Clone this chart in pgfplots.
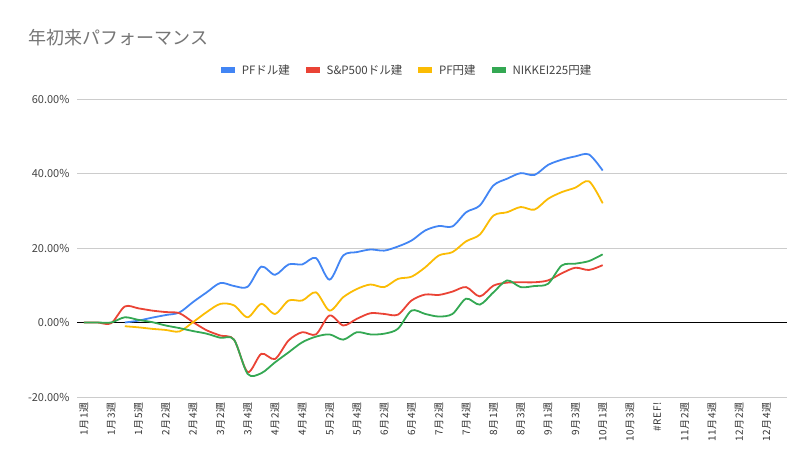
\documentclass[border=0pt]{standalone}
\usepackage{pgfplots}
\pgfplotsset{compat=1.18}
\usepackage{pgfplotstable}
\usepackage{fontspec}
\setmainfont{Noto Sans CJK JP}
\definecolor{cblue}{HTML}{4285F4}
\definecolor{cred}{HTML}{EA4335}
\definecolor{cyellow}{HTML}{FBBC04}
\definecolor{cgreen}{HTML}{34A853}
\definecolor{gridgray}{HTML}{CCCCCC}
\definecolor{titlegray}{HTML}{757575}
\definecolor{textgray}{HTML}{444444}
\pgfplotstableread{
x y
3 0.0
4 0.5
5 1.3
6 2.0
7 2.7
8 5.5
9 8.1
10 10.6
11 9.8
12 9.6
13 15.0
14 12.8
15 15.6
16 15.6
17 17.3
18 11.5
19 18.0
20 18.9
21 19.6
22 19.3
23 20.4
24 22.0
25 24.7
26 25.9
27 25.8
28 29.6
29 31.4
30 36.8
31 38.6
32 40.1
33 39.6
34 42.3
35 43.7
36 44.6
37 45.1
38 40.8
}\pfusd
\pgfplotstableread{
x y
0 0
1 0
2 -0.2
3 4.3
4 3.8
5 3.2
6 2.8
7 2.5
8 0.1
9 -2.1
10 -3.5
11 -4.6
12 -13.3
13 -8.4
14 -9.8
15 -4.8
16 -2.6
17 -3.2
18 1.9
19 -0.8
20 1.0
21 2.5
22 2.3
23 2.1
24 5.9
25 7.5
26 7.4
27 8.3
28 9.5
29 7.0
30 9.9
31 10.7
32 10.8
33 10.8
34 11.3
35 13.2
36 14.7
37 14.1
38 15.4
}\spusd
\pgfplotstableread{
x y
3 -1.0
4 -1.3
5 -1.7
6 -2.0
7 -2.4
8 0.1
9 2.8
10 5.0
11 4.6
12 1.4
13 5.0
14 2.3
15 5.9
16 5.9
17 8.1
18 3.2
19 6.8
20 9.0
21 10.2
22 9.5
23 11.7
24 12.3
25 14.8
26 18.0
27 18.9
28 21.8
29 23.6
30 28.7
31 29.6
32 31.0
33 30.3
34 33.2
35 35.0
36 36.2
37 37.9
38 32.0
}\pfjpy
\pgfplotstableread{
x y
0 0
1 0
2 0
3 1.4
4 0.7
5 0.1
6 -0.8
7 -1.5
8 -2.3
9 -3.0
10 -4.1
11 -4.6
12 -13.8
13 -13.6
14 -10.7
15 -8.0
16 -5.3
17 -3.8
18 -3.2
19 -4.6
20 -2.6
21 -3.2
22 -3.0
23 -1.7
24 3.2
25 2.3
26 1.6
27 2.3
28 6.4
29 4.8
30 8.1
31 11.3
32 9.5
33 9.8
34 10.4
35 15.3
36 15.8
37 16.5
38 18.3
}\nikkei
\begin{document}
\begin{tikzpicture}[x=1pt,y=1pt]
\path[use as bounding box] (-77,-75) rectangle (733,397);
\begin{axis}[
  at={(0,0)}, anchor=south west,
  scale only axis, width=710pt, height=298pt,
  xmin=-0.5, xmax=51.5, ymin=-20, ymax=60,
  axis line style={draw=none},
  major tick length=0pt,
  ytick={-20,0,20,40,60},
  yticklabels={-20.00\%,0.00\%,20.00\%,40.00\%,60.00\%},
  ymajorgrids,
  grid style={color=gridgray, line width=0.8pt},
  extra y ticks={0},
  extra y tick labels={},
  extra y tick style={ymajorgrids=true, grid style={black, line width=0.9pt}},
  xtick={0,2,...,50},
  xticklabels={1月1週,1月3週,1月5週,2月2週,2月4週,3月2週,3月4週,4月2週,4月4週,5月2週,5月4週,6月2週,6月4週,7月2週,7月4週,8月1週,8月3週,9月1週,9月3週,10月1週,10月3週,\#REF!,11月2週,11月4週,12月2週,12月4週},
  xticklabel style={rotate=90, anchor=east, font=\fontsize{10}{11}\selectfont\addfontfeatures{LetterSpace=7}, color=black!80, xshift=-2pt},
  yticklabel style={font=\fontsize{11}{12}\selectfont, color=textgray, xshift=-4pt},
  title={年初来パフォーマンス},
  title style={at={(-0.0732,1.185)}, anchor=west, font=\fontsize{18}{20}\selectfont, color=titlegray},
  legend columns=4,
  legend style={at={(0.465,1.097)}, anchor=center, draw=none, fill=none,
    font=\fontsize{11.5}{13}\selectfont, text=textgray,
    /tikz/every odd column/.append style={column sep=5pt},
    /tikz/every even column/.append style={column sep=14pt}},
  legend image code/.code={\fill[#1] (0pt,-2pt) rectangle (12pt,2pt);},
  no markers,
  every axis plot/.append style={line width=1.8pt, smooth, tension=0.5},
]
\addplot[cblue] table {\pfusd};
\addlegendentry{PFドル建}
\addplot[cred] table {\spusd};
\addlegendentry{S\&P500ドル建}
\addplot[cyellow] table {\pfjpy};
\addlegendentry{PF円建}
\addplot[cgreen] table {\nikkei};
\addlegendentry{NIKKEI225円建}
\end{axis}
\end{tikzpicture}
\end{document}
